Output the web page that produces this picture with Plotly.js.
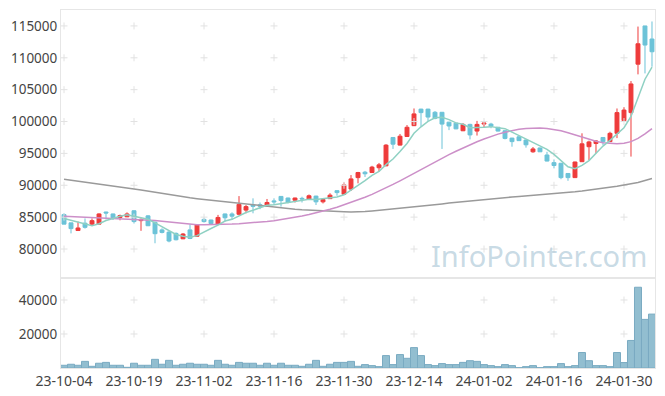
<!DOCTYPE html>
<html><head><meta charset="utf-8">
<script src="https://cdn.plot.ly/plotly-3.0.1.min.js"></script>
<style>html,body{margin:0;padding:0;background:#fff}#chart{width:665px;height:396px}</style>
</head><body><div id="chart"></div>
<script>
const dates = ["23-10-04","23-10-05","23-10-06","23-10-10","23-10-11","23-10-12","23-10-13","23-10-16","23-10-17","23-10-18","23-10-19","23-10-20","23-10-23","23-10-24","23-10-25","23-10-26","23-10-27","23-10-30","23-10-31",
"23-11-01","23-11-02","23-11-03","23-11-06","23-11-07","23-11-08","23-11-09","23-11-10","23-11-13","23-11-14","23-11-15","23-11-16","23-11-17","23-11-20","23-11-21","23-11-22","23-11-23","23-11-24","23-11-27","23-11-28","23-11-29","23-11-30",
"23-12-01","23-12-04","23-12-05","23-12-06","23-12-07","23-12-08","23-12-11","23-12-12","23-12-13","23-12-14","23-12-15","23-12-18","23-12-19","23-12-20","23-12-21","23-12-22","23-12-26","23-12-27","23-12-28",
"24-01-02","24-01-03","24-01-04","24-01-05","24-01-08","24-01-09","24-01-10","24-01-11","24-01-12","24-01-15","24-01-16","24-01-17","24-01-18","24-01-19","24-01-22","24-01-23","24-01-24","24-01-25","24-01-26","24-01-29","24-01-30","24-01-31",
"24-02-01","24-02-02","24-02-05"];

const openP  = [85400,84100,82900,84050,83900,83900,85800,85500,84950,85050,86000,84450,85200,84200,83000,82650,82450,81600,83000,82000,
84650,84550,83850,85500,85500,85450,86100,86900,86950,86700,87550,88250,88000,87650,87950,87850,88300,87400,87900,89150,
88600,89400,91200,92050,92000,92750,93050,97500,96300,97650,99350,101950,101950,101450,101450,99900,99750,98550,99550,98500,
99600,99600,99100,98550,97400,97600,97100,95250,95850,94750,93550,93450,91850,91200,93700,96050,96550,97500,96850,98150,
100150,101400,109000,115000,112950];
const highP  = [85600,84100,84300,84800,84800,85600,85850,85550,85400,85750,86050,84800,85300,84300,83250,82800,82600,82500,83850,83850,
84950,84600,85350,85550,85750,88300,86900,87950,87300,87850,87950,88300,88050,88050,88200,88550,88350,87950,88750,89200,
90450,91600,92100,92250,93050,93500,96450,97550,98050,99450,102050,102000,102000,101650,101500,99950,99800,99750,99650,100100,
99900,99800,99150,98600,97450,97700,97150,96000,95900,95250,94050,93500,91900,93700,98150,97000,97100,97550,98400,102050,
102250,106350,114900,115000,115700];
const lowP   = [83900,82450,82850,83200,83600,83900,84650,84550,84500,85000,84000,82850,83600,80900,82450,81050,81350,81550,81550,81950,
84150,83750,83800,84300,84550,85300,85600,85600,86250,86650,86900,86650,87150,87300,87300,87800,86900,87150,87850,88350,
88550,89100,90300,91300,91950,92150,93000,95700,96250,97600,99300,99200,100100,100350,95700,98650,98800,98500,97200,97800,
99050,98950,98450,97200,96050,96950,95900,95100,95250,93750,92650,90950,90700,91150,93650,93950,95000,96300,96800,97400,
100100,94500,107400,107550,108600];
const closeP = [83900,83200,83300,83400,84450,85500,85650,84900,85250,85500,84300,84650,83650,82400,82600,81250,81450,82350,81650,83800,
84300,84000,84950,84900,85150,87000,86650,86700,86700,87300,87400,87600,87300,88000,87850,88350,87400,87750,88450,88850,
90050,91000,92000,91800,92850,93200,96300,96450,97700,99100,101200,101400,100700,100500,99600,99300,98850,99550,97900,99550,
99750,99250,98500,97350,96850,97000,96350,95700,95250,93800,93100,91200,91200,93650,96500,96800,96950,96850,98150,101400,
101800,105900,112200,112000,110950];

const ma5  = [84800,84500,84200,83900,83650,83970,84460,84780,85150,85360,85120,84920,84670,84100,83520,82910,82270,82010,81860,82100,
82710,83220,83740,84390,84660,85200,85730,86080,86440,86870,86950,87140,87260,87520,87630,87820,87780,87870,87960,88160,
88500,89220,90070,90740,91540,92170,93230,94120,95300,96550,98150,99170,100020,100580,100680,100300,99790,99560,99040,99030,
99120,99200,98990,98880,98340,97790,97210,96650,96230,95620,94840,93810,92910,92590,93130,93870,95020,96150,97050,98030,
99030,100800,103870,106640,108550];
const ma20 = [85150,85100,85050,85000,84960,84930,84900,84870,84830,84780,84720,84650,84570,84470,84350,84220,84100,83980,83880,83820,
83790,83800,83830,83870,83920,83980,84050,84140,84240,84330,84450,84600,84770,84960,85170,85400,85650,85930,86230,86560,
86920,87300,87700,88120,88580,89060,89580,90130,90700,91300,91900,92500,93100,93680,94250,94800,95330,95850,96350,96820,
97260,97660,98020,98330,98590,98790,98920,98980,98970,98900,98760,98540,98250,97900,97550,97200,96900,96680,96550,96520,
96600,96850,97350,98050,98900];
const ma60 = [90930,90790,90650,90510,90370,90230,90090,89950,89800,89620,89430,89240,89050,88860,88670,88480,88320,88170,88030,87900,
87780,87650,87520,87390,87260,87130,87010,86890,86770,86650,86540,86440,86340,86250,86170,86100,86040,85990,85950,85910,
85850,85820,85800,85870,85960,86060,86160,86260,86360,86470,86580,86700,86820,86950,87070,87200,87320,87440,87560,87680,
87790,87890,87980,88070,88160,88240,88320,88400,88490,88580,88680,88780,88880,88990,89110,89240,89380,89530,89690,89860,
90040,90230,90440,90750,91050];

const volume = [1600,2200,1600,3900,1000,2800,3300,1600,1600,400,2800,1600,1600,5100,2200,4500,1600,2200,2800,2200,
2200,1600,4500,2200,1600,3300,2800,2800,1600,2800,1600,2800,1600,1600,1000,2200,4500,1000,2200,3300,
3300,3900,1000,2000,1400,800,7300,2000,7900,5700,12000,7300,2000,1400,2600,2000,2000,3300,4300,3900,
2000,1400,800,2000,1400,200,800,1400,200,800,800,2600,800,1400,9100,4300,1400,1400,800,9100,
3200,16200,47500,28600,31700];

const tickIdx = [0,10,20,30,40,50,60,70,80];
const priceTicks = [80000,85000,90000,95000,100000,105000,110000,115000];
const volTicks = [20000,40000];

const tickDates = tickIdx.map(i => dates[i]);
const gx = [], gy = [], vx = [], vy = [];
tickDates.forEach(d => { priceTicks.forEach(p => { gx.push(d); gy.push(p); }); volTicks.forEach(v => { vx.push(d); vy.push(v); }); });

const crossStyle = {symbol: 'cross-thin', size: 5, color: '#e2e2e2', line: {color: '#e2e2e2', width: 1}};

const traces = [
  {type: 'scatter', mode: 'markers', x: gx, y: gy, xaxis: 'x2', yaxis: 'y', marker: crossStyle, hoverinfo: 'skip', showlegend: false},
  {type: 'scatter', mode: 'markers', x: vx, y: vy, xaxis: 'x', yaxis: 'y2', marker: crossStyle, hoverinfo: 'skip', showlegend: false},
  {type: 'scatter', mode: 'lines', x: dates, y: ma60, xaxis: 'x2', yaxis: 'y', line: {color: '#9a9a9a', width: 1.5}, showlegend: false},
  {type: 'scatter', mode: 'lines', x: dates, y: ma20, xaxis: 'x2', yaxis: 'y', line: {color: '#cc8fc8', width: 1.5}, showlegend: false},
  {type: 'candlestick', x: dates, open: openP, high: highP, low: lowP, close: closeP, xaxis: 'x2', yaxis: 'y',
   increasing: {line: {color: '#ee3b3b', width: 1}, fillcolor: '#ee3b3b'},
   decreasing: {line: {color: '#6cc3d8', width: 1}, fillcolor: '#6cc3d8'},
   whiskerwidth: 0, showlegend: false},
  {type: 'scatter', mode: 'lines', x: dates, y: ma5, xaxis: 'x2', yaxis: 'y', line: {color: '#8fd1c3', width: 1.5}, showlegend: false},
  {type: 'bar', x: dates, y: volume, xaxis: 'x', yaxis: 'y2', marker: {color: 'rgba(140,186,206,0.95)', line: {color: '#7aabc2', width: 1}}, showlegend: false}
];

const axFont = {family: 'Noto Sans, Open Sans, sans-serif', size: 13.5, color: '#444'};
const xFont = {family: 'Noto Sans, Open Sans, sans-serif', size: 14, color: '#444'};
const split = 0.2514;
const layout = {
  width: 665, height: 396,
  margin: {l: 61, r: 10, t: 10, b: 28},
  paper_bgcolor: '#fff', plot_bgcolor: '#fff',
  showlegend: false,
  bargap: 0, boxgap: 0.2,
  font: axFont,
  xaxis: {type: 'category', categoryorder: 'array', categoryarray: dates, anchor: 'y2', domain: [0, 1], range: [-0.43, 84.43],
          tickmode: 'array', tickvals: tickDates, ticktext: tickDates, tickangle: 0,
          showgrid: false, zeroline: false, showline: true, linecolor: '#e6e6e6', mirror: true, ticks: '', tickfont: xFont,
          rangeslider: {visible: false}},
  xaxis2: {type: 'category', categoryorder: 'array', categoryarray: dates, anchor: 'y', matches: 'x', domain: [0, 1], range: [-0.43, 84.43], showticklabels: false,
          showgrid: false, zeroline: false, showline: true, linecolor: '#e6e6e6', mirror: true, ticks: '',
          rangeslider: {visible: false}},
  yaxis: {domain: [split, 1], range: [75450, 117500], tickvals: priceTicks, ticktext: priceTicks.map(String),
          showgrid: false, zeroline: false, showline: true, linecolor: '#e6e6e6', mirror: true, ticks: '', tickfont: axFont},
  yaxis2: {domain: [0, split], range: [0, 52940], tickvals: volTicks, ticktext: volTicks.map(String),
          showgrid: false, zeroline: false, showline: true, linecolor: '#e6e6e6', mirror: true, ticks: '', tickfont: axFont},
  annotations: [{text: 'InfoPointer.com', xref: 'paper', yref: 'paper', x: 0.805, y: 0.3156, xanchor: 'center', yanchor: 'middle',
                 showarrow: false, font: {family: 'Noto Sans, sans-serif', size: 29, color: 'rgba(170,198,214,0.65)'}}]
};

Plotly.newPlot('chart', traces, layout, {staticPlot: true, displayModeBar: false});
</script>
</body></html>
